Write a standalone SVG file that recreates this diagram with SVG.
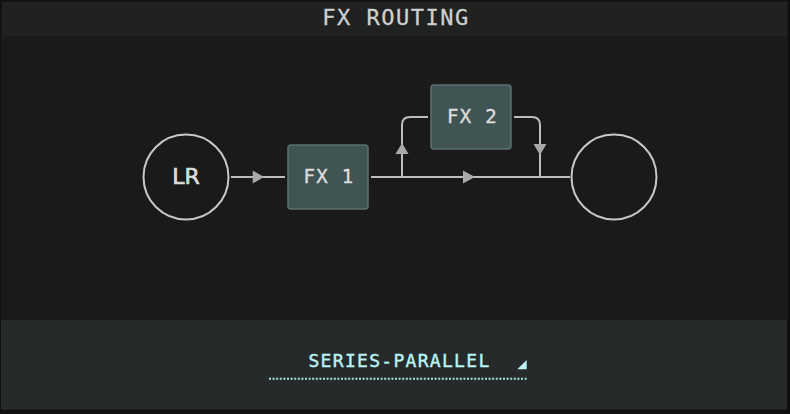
<svg xmlns="http://www.w3.org/2000/svg" width="790" height="414" viewBox="0 0 790 414">
<style>
.wire{fill:none;stroke:#bdbdbd;stroke-width:2}
.arr{fill:#a9a9a9}
.ring{fill:#1a1a1a;stroke:#c8c8c8;stroke-width:2}
.box{fill:#3f5453;stroke:#5b716f;stroke-width:1.5}
.mono{font-family:"DejaVu Sans Mono","Liberation Mono",monospace}
.lbl{fill:#dcdcdc;font-size:19px;letter-spacing:1.3px;text-anchor:middle;stroke:#dcdcdc;stroke-width:0.4}
</style>
<rect x="0" y="0" width="790" height="414" fill="#0f0f0f"/>
<rect x="1" y="36" width="787" height="284" fill="#1a1a1a"/>
<rect x="1.5" y="1.5" width="786" height="34.5" fill="#202121"/>
<text x="396" y="25" class="mono" font-size="22" letter-spacing="1.5" fill="#cfcfcf" stroke="#cfcfcf" stroke-width="0.3" text-anchor="middle">FX ROUTING</text>
<rect x="1" y="320" width="786" height="89.5" fill="#262a2b"/>
<g id="connectors">
<path class="wire" d="M231,177 H285"/>
<path class="wire" d="M371,177 H570"/>
<path class="wire" d="M402,177 V125 Q402,117 410,117 H428"/>
<path class="wire" d="M514,117 H532 Q540,117 540,125 V177"/>
<polygon class="arr" points="252.7,170.5 264,177 252.7,183.5"/>
<polygon class="arr" points="463,170.5 475,177 463,183.5"/>
<polygon class="arr" points="395.5,154 402,143 408.5,154"/>
<polygon class="arr" points="533.5,144 546.5,144 540,155"/>
</g>
<g id="node-lr">
<circle class="ring" cx="186" cy="177" r="42.5"/>
<text x="186" y="184.3" font-family="DejaVu Sans,sans-serif" font-size="22" fill="#dcdcdc" stroke="#dcdcdc" stroke-width="0.7" text-anchor="middle">LR</text>
</g>
<g id="node-fx1">
<rect class="box" x="288" y="145" width="80" height="64" rx="3"/>
<text x="329" y="182.7" class="mono lbl">FX 1</text>
</g>
<g id="node-fx2">
<rect class="box" x="431" y="85" width="80" height="64" rx="3"/>
<text x="472.5" y="122.7" class="mono lbl">FX 2</text>
</g>
<g id="node-out">
<circle class="ring" cx="614" cy="177" r="42.5"/>
</g>
<g id="selector">
<text x="399.5" y="367.3" class="mono" font-size="18" letter-spacing="1.3" fill="#b9f3f3" stroke="#b9f3f3" stroke-width="0.4" text-anchor="middle">SERIES-PARALLEL</text>
<polygon points="526.7,360 526.7,369.3 517.3,369.3" fill="#b9f3f3"/>
<line x1="269" y1="378.7" x2="527" y2="378.7" stroke="#a9e6e6" stroke-width="2" stroke-dasharray="2 1.6"/>
</g>
</svg>
